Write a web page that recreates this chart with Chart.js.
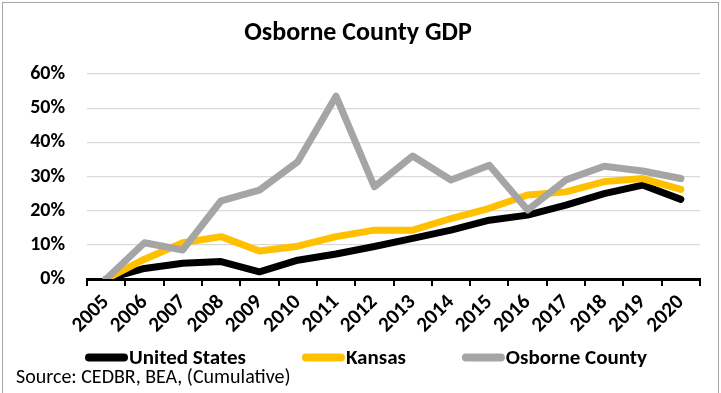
<!DOCTYPE html>
<html>
<head>
<meta charset="utf-8">
<script src="https://cdn.jsdelivr.net/npm/chart.js@4/dist/chart.umd.min.js"></script>
<style>
  body { margin: 0; background: #fff; }
  #wrap { position: relative; width: 721px; height: 393px; }
  #frame {
    position: absolute; left: 2px; top: 2px; width: 717px; height: 400px;
    border: 1px solid #a6a6a6; border-bottom: none; box-sizing: border-box;
  }
  #chartCanvas { position: absolute; left: 0; top: 0; }
</style>
</head>
<body>
<div id="wrap">
  <div id="frame"></div>
  <canvas id="chartCanvas" width="721" height="393"></canvas>
</div>
<script>
// ----------------------------
// Data (cumulative GDP growth, %)
// ----------------------------
const years = ["2005", "2006", "2007", "2008", "2009", "2010", "2011", "2012",
  "2013", "2014", "2015", "2016", "2017", "2018", "2019", "2020"];
const usValues = [0, 3.1, 4.6, 5.1, 2.1, 5.5, 7.3, 9.5, 11.9, 14.3, 17.2, 18.7, 21.6, 25.0, 27.5, 23.3];
const kansasValues = [0, 5.8, 10.6, 12.4, 8.2, 9.6, 12.4, 14.3, 14.3, 17.7, 20.7, 24.6, 25.5, 28.5, 29.4, 26.2];
const osborneValues = [0, 10.6, 8.5, 22.9, 26.0, 34.3, 53.5, 27.0, 36.0, 29.0, 33.3, 20.2, 29.0, 33.0, 31.6, 29.4];
const yTicks = [0, 10, 20, 30, 40, 50, 60];

const FONT = "Carlito, Lato, 'Liberation Sans', sans-serif";

// ----------------------------
// Legend plugin (Excel style: wide gaps, swatch touching text)
// ----------------------------
const lineLegend = {
  id: "lineLegend",
  afterDraw(chart, args, opts) {
    const c = chart.ctx;
    const y = chart.chartArea.bottom + opts.offsetY;
    let x = opts.startX;
    c.save();
    c.font = "bold " + opts.fontSize + "px " + FONT;
    c.textBaseline = "middle";
    c.textAlign = "left";
    chart.data.datasets.forEach(ds => {
      c.fillStyle = ds.borderColor;
      c.beginPath();
      c.roundRect(x, y - opts.boxHeight / 2, opts.boxWidth, opts.boxHeight, opts.boxHeight / 2);
      c.fill();
      x += opts.boxWidth + opts.textGap;
      c.fillStyle = "#000";
      c.fillText(ds.label, x, y + 1);
      x += c.measureText(ds.label).width + opts.itemGap;
    });
    c.restore();
  }
};

// ----------------------------
// Chart
// ----------------------------
const ctx = document.getElementById("chartCanvas").getContext("2d");

function series(label, data, color, order) {
  return {
    label: label,
    data: data,
    borderColor: color,
    backgroundColor: color,
    borderWidth: 7,
    borderCapStyle: "round",
    borderJoinStyle: "round",
    pointRadius: 0,
    tension: 0,
    fill: false,
    order: order
  };
}

new Chart(ctx, {
  type: "line",
  data: {
    labels: years,
    datasets: [
      series("United States", usValues, "#000000", 2),
      series("Kansas", kansasValues, "#ffc000", 1),
      series("Osborne County", osborneValues, "#a5a5a5", 0)
    ]
  },
  plugins: [lineLegend],
  options: {
    responsive: false,
    animation: false,
    layout: { padding: { left: 16, right: 21, top: 0, bottom: 3 } },
    plugins: {
      title: {
        display: true,
        text: "Osborne County GDP",
        color: "#000",
        font: { family: FONT, size: 26, weight: "bold" },
        padding: { top: 17.4, bottom: 25.4 }
      },
      subtitle: {
        display: true,
        position: "bottom",
        align: "start",
        text: "Source: CEDBR, BEA, (Cumulative)",
        color: "#000",
        font: { family: FONT, size: 20, weight: "normal" },
        padding: { top: 25, bottom: 0 }
      },
      legend: { display: false },
      lineLegend: {
        startX: 85,
        offsetY: 78.5,
        fontSize: 21,
        boxWidth: 43,
        boxHeight: 8,
        textGap: 1,
        itemGap: 56
      },
      tooltip: { enabled: false }
    },
    scales: {
      x: {
        offset: true,
        afterFit: scale => { scale.height = 62; },
        grid: {
          offset: true,
          drawOnChartArea: false,
          drawTicks: true,
          tickLength: 7,
          color: "#000",
          lineWidth: 2
        },
        border: { display: true, color: "#000", width: 3 },
        ticks: {
          color: "#000",
          font: { family: FONT, size: 21, weight: "bold" },
          minRotation: 45,
          maxRotation: 45,
          autoSkip: false,
          padding: 4
        }
      },
      y: {
        min: yTicks[0],
        max: yTicks[yTicks.length - 1],
        afterFit: scale => { scale.width = 87 - 16; },
        afterBuildTicks: scale => { scale.ticks = yTicks.map(v => ({ value: v })); },
        grid: { color: "#d9d9d9", lineWidth: 1.3, drawTicks: false },
        border: { display: false },
        ticks: {
          color: "#000",
          font: { family: FONT, size: 20, weight: "bold" },
          padding: 22,
          callback: v => v + "%"
        }
      }
    }
  }
});
</script>
</body>
</html>
